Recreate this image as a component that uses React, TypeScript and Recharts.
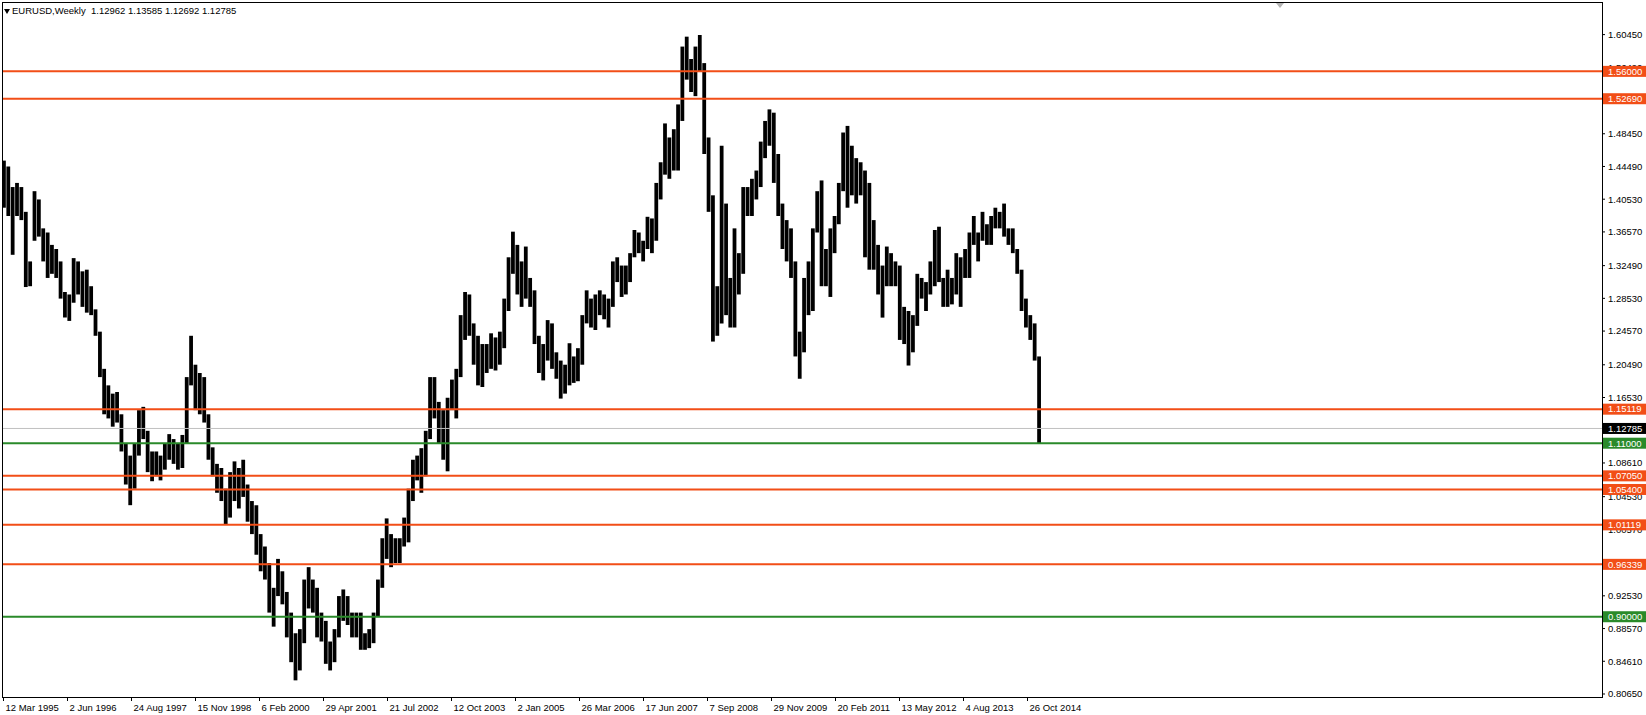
import React from 'react';
import { ComposedChart, Bar, XAxis, YAxis, ReferenceLine } from 'recharts';

// EURUSD weekly chart, drawn here as monthly high/low ranges (Mar 1995 - Jan 2015)
const FIRST_MONTH = '1995-03';
const CHART_START = '1995-03-12';

// monthly highs, one row per year
const highs = [
  1.452, 1.445, 1.420, 1.425, 1.420, 1.390, 1.330, 1.415, 1.405, 1.370, // 1995 (Mar-Dec)
  1.365, 1.350, 1.345, 1.330, 1.293, 1.290, 1.334, 1.330, 1.318, 1.320, 1.300, 1.272, // 1996
  1.245, 1.200, 1.180, 1.170, 1.172, 1.145, 1.110, 1.095, 1.110, 1.150, 1.154, 1.125, // 1997
  1.100, 1.100, 1.095, 1.110, 1.121, 1.115, 1.110, 1.120, 1.190, 1.240, 1.205, 1.195, // 1998
  1.190, 1.145, 1.105, 1.085, 1.080, 1.055, 1.075, 1.088, 1.080, 1.090, 1.060, 1.040, // 1999
  1.035, 1.000, 0.985, 0.965, 0.935, 0.970, 0.955, 0.930, 0.905, 0.880, 0.885, 0.945, // 2000
  0.960, 0.945, 0.935, 0.905, 0.895, 0.870, 0.885, 0.925, 0.933, 0.925, 0.905, 0.905, // 2001
  0.905, 0.880, 0.885, 0.905, 0.945, 0.995, 1.019, 1.000, 0.995, 0.995, 1.020, 1.055, // 2002
  1.090, 1.095, 1.104, 1.125, 1.190, 1.190, 1.160, 1.150, 1.165, 1.187, 1.200, 1.265, // 2003
  1.293, 1.290, 1.255, 1.240, 1.230, 1.230, 1.243, 1.238, 1.245, 1.285, 1.335, 1.366, // 2004
  1.350, 1.330, 1.348, 1.310, 1.295, 1.240, 1.230, 1.259, 1.255, 1.220, 1.210, 1.205, // 2005
  1.231, 1.215, 1.225, 1.265, 1.295, 1.285, 1.290, 1.295, 1.290, 1.285, 1.330, 1.335, // 2006
  1.325, 1.325, 1.340, 1.368, 1.365, 1.355, 1.384, 1.382, 1.425, 1.450, 1.497, 1.480, // 2007
  1.490, 1.520, 1.590, 1.602, 1.575, 1.590, 1.604, 1.570, 1.480, 1.410, 1.300, 1.470, // 2008
  1.400, 1.310, 1.370, 1.340, 1.420, 1.420, 1.430, 1.440, 1.475, 1.500, 1.514, 1.510, // 2009
  1.460, 1.400, 1.380, 1.370, 1.330, 1.245, 1.310, 1.330, 1.370, 1.415, 1.428, 1.345, // 2010
  1.370, 1.385, 1.425, 1.486, 1.494, 1.470, 1.455, 1.450, 1.440, 1.425, 1.380, 1.350, // 2011
  1.325, 1.348, 1.340, 1.330, 1.325, 1.275, 1.270, 1.265, 1.315, 1.310, 1.305, 1.330, // 2012
  1.368, 1.372, 1.310, 1.320, 1.310, 1.340, 1.335, 1.345, 1.365, 1.385, 1.365, 1.390, // 2013
  1.375, 1.385, 1.395, 1.390, 1.400, 1.370, 1.370, 1.345, 1.320, 1.285, 1.265, 1.255, // 2014
  1.215, // 2015 (Jan)
];

// monthly lows, same layout
const lows = [
  1.395, 1.385, 1.338, 1.385, 1.380, 1.299, 1.300, 1.355, 1.360, 1.330, // 1995
  1.310, 1.315, 1.310, 1.285, 1.262, 1.258, 1.280, 1.290, 1.275, 1.268, 1.265, 1.240, // 1996
  1.190, 1.145, 1.140, 1.130, 1.135, 1.100, 1.060, 1.035, 1.055, 1.095, 1.115, 1.075, // 1997
  1.064, 1.070, 1.065, 1.078, 1.090, 1.085, 1.078, 1.080, 1.110, 1.180, 1.150, 1.145, // 1998
  1.135, 1.090, 1.070, 1.050, 1.040, 1.011, 1.020, 1.040, 1.031, 1.045, 1.015, 1.000, // 1999
  0.975, 0.955, 0.945, 0.905, 0.888, 0.925, 0.915, 0.875, 0.845, 0.823, 0.835, 0.868, // 2000
  0.910, 0.905, 0.875, 0.870, 0.843, 0.835, 0.845, 0.875, 0.895, 0.890, 0.875, 0.875, // 2001
  0.860, 0.860, 0.862, 0.868, 0.900, 0.935, 0.970, 0.960, 0.965, 0.965, 0.985, 0.990, // 2002
  1.040, 1.065, 1.050, 1.070, 1.115, 1.140, 1.110, 1.090, 1.076, 1.150, 1.140, 1.190, // 2003
  1.235, 1.240, 1.205, 1.180, 1.178, 1.195, 1.200, 1.198, 1.205, 1.225, 1.270, 1.315, // 2004
  1.290, 1.275, 1.285, 1.275, 1.230, 1.195, 1.186, 1.210, 1.200, 1.188, 1.164, 1.170, // 2005
  1.180, 1.183, 1.185, 1.205, 1.255, 1.250, 1.247, 1.265, 1.260, 1.250, 1.275, 1.305, // 2006
  1.287, 1.290, 1.305, 1.335, 1.340, 1.330, 1.345, 1.340, 1.355, 1.405, 1.435, 1.430, // 2007
  1.440, 1.440, 1.500, 1.550, 1.535, 1.530, 1.560, 1.460, 1.390, 1.233, 1.240, 1.255, // 2008
  1.265, 1.250, 1.250, 1.290, 1.315, 1.385, 1.385, 1.405, 1.420, 1.455, 1.470, 1.425, // 2009
  1.385, 1.345, 1.330, 1.310, 1.215, 1.188, 1.220, 1.265, 1.270, 1.365, 1.300, 1.300, // 2010
  1.287, 1.340, 1.375, 1.415, 1.395, 1.410, 1.400, 1.410, 1.335, 1.320, 1.320, 1.290, // 2011
  1.262, 1.300, 1.300, 1.300, 1.235, 1.230, 1.204, 1.220, 1.252, 1.285, 1.270, 1.290, // 2012
  1.300, 1.305, 1.275, 1.275, 1.278, 1.290, 1.275, 1.310, 1.310, 1.350, 1.330, 1.355, // 2013
  1.350, 1.350, 1.370, 1.370, 1.360, 1.350, 1.340, 1.315, 1.270, 1.250, 1.235, 1.210, // 2014
  1.110, // 2015
];

const xTickDates = [
  '1995-03-12', '1996-06-02', '1997-08-24', '1998-11-15', '2000-02-06', '2001-04-29',
  '2002-07-21', '2003-10-12', '2005-01-02', '2006-03-26', '2007-06-17', '2008-09-07',
  '2009-11-29', '2011-02-20', '2012-05-13', '2013-08-04', '2014-10-26',
];
const xTickLabels = [
  '12 Mar 1995', '2 Jun 1996', '24 Aug 1997', '15 Nov 1998', '6 Feb 2000', '29 Apr 2001',
  '21 Jul 2002', '12 Oct 2003', '2 Jan 2005', '26 Mar 2006', '17 Jun 2007', '7 Sep 2008',
  '29 Nov 2009', '20 Feb 2011', '13 May 2012', '4 Aug 2013', '26 Oct 2014',
];

const priceTicks = [
  1.6045, 1.5649, 1.5253, 1.4845, 1.4449, 1.4053, 1.3657, 1.3249, 1.2853, 1.2457, 1.2049,
  1.1653, 1.1257, 1.0861, 1.0453, 1.0057, 0.9661, 0.9253, 0.8857, 0.8461, 0.8065,
];

const orangeLevels = [1.56, 1.5269, 1.15119, 1.0705, 1.054, 1.01119, 0.96339];
const greenLevels = [1.11, 0.9];
const lastPrice = 1.12785;
const header = { symbol: 'EURUSD,Weekly', ohlc: [1.12962, 1.13585, 1.12692, 1.12785] };

const ORANGE = '#f24e17';
const GREEN = '#2a8a2a';
const FONT = "'Liberation Sans', Arial, sans-serif";
const DAY = 86400000;
const W = 1646;
const H = 715;
const X_DOMAIN = [-0.5, 1598.5];
const Y_DOMAIN = [0.80286, 1.64274];

const [sy, sm, sd] = CHART_START.split('-').map(Number);
const origin = Date.UTC(sy, sm - 1, sd);

const weekIndex = (iso: string) => {
  const [y, m, d] = iso.split('-').map(Number);
  return (Date.UTC(y, m - 1, d) - origin) / (7 * DAY);
};

const [firstYear, firstMon] = FIRST_MONTH.split('-').map(Number);
const bars = highs.map((h, i) => {
  const mIdx = firstMon - 1 + i;
  const y = firstYear + Math.floor(mIdx / 12);
  const m = mIdx % 12;
  const mid = (Date.UTC(y, m, 1) + Date.UTC(y, m + 1, 1)) / 2;
  return { w: (mid - origin) / (7 * DAY), range: [lows[i], h] };
});

const xTicks = xTickDates.map((d) => Math.round(weekIndex(d)));
const xLabelOf: Record<number, string> = {};
xTicks.forEach((t, i) => (xLabelOf[t] = xTickLabels[i]));

const DateTick = ({ x, y, payload }: any) => (
  <text x={x + 2} y={y} dy={8} fill="#000" fontSize={9.5} fontFamily={FONT} textAnchor="start">
    {xLabelOf[payload.value]}
  </text>
);

const PriceTick = ({ x, y, payload }: any) => (
  <text x={x} y={y} dy="0.35em" fill="#000" fontSize={9.5} fontFamily={FONT} textAnchor="start">
    {Number(payload.value).toFixed(5)}
  </text>
);

const PriceTag = ({ viewBox, price, bg }: any) => {
  const left = viewBox.x + viewBox.width + 1;
  return (
    <g>
      <rect x={left} y={viewBox.y - 5.5} width={44} height={11} fill={bg} />
      <text x={left + 5} y={viewBox.y} dy="0.35em" fill="#fff" fontSize={9.5} fontFamily={FONT}>
        {price.toFixed(5)}
      </text>
    </g>
  );
};

const layer: React.CSSProperties = { position: 'absolute', left: 0, top: 0 };
const chartMargin = { top: 3, right: 0, bottom: 0, left: 3 };

export default function App() {
  return (
    <div style={{ position: 'absolute', left: 0, top: 0, width: W, height: H, background: '#fff' }}>
      {/* price bars and axes */}
      <div style={layer}>
        <ComposedChart width={W} height={H} data={bars} margin={chartMargin}>
          <XAxis
            type="number"
            dataKey="w"
            domain={X_DOMAIN}
            allowDataOverflow
            ticks={xTicks}
            interval={0}
            height={18}
            axisLine={false}
            tickLine={{ stroke: '#000' }}
            tickSize={4}
            tickMargin={2}
            tick={<DateTick />}
          />
          <YAxis
            orientation="right"
            type="number"
            domain={Y_DOMAIN}
            allowDataOverflow
            ticks={priceTicks}
            interval={0}
            width={44}
            axisLine={false}
            tickLine={{ stroke: '#000' }}
            tickSize={3}
            tickMargin={3}
            tick={<PriceTick />}
          />
          <Bar dataKey="range" fill="#000" barSize={5} isAnimationActive={false} />
        </ComposedChart>
      </div>

      {/* horizontal levels with price tags, drawn over the axis labels */}
      <div style={{ ...layer, pointerEvents: 'none' }}>
        <ComposedChart width={W} height={H} data={bars} margin={chartMargin}>
          <XAxis type="number" dataKey="w" domain={X_DOMAIN} allowDataOverflow height={18} axisLine={false} tickLine={false} tick={false} />
          <YAxis orientation="right" type="number" domain={Y_DOMAIN} allowDataOverflow width={44} axisLine={false} tickLine={false} tick={false} />
          <ReferenceLine
            y={lastPrice}
            stroke="#c0c0c0"
            strokeWidth={1}
            label={<PriceTag price={lastPrice} bg="#000" />}
          />
          {greenLevels.map((p) => (
            <ReferenceLine
              key={'g' + p}
              y={p}
              stroke={GREEN}
              strokeWidth={2}
              label={<PriceTag price={p} bg={GREEN} />}
            />
          ))}
          {orangeLevels.map((p) => (
            <ReferenceLine
              key={'o' + p}
              y={p}
              stroke={ORANGE}
              strokeWidth={2}
              label={<PriceTag price={p} bg={ORANGE} />}
            />
          ))}
        </ComposedChart>
      </div>

      {/* chart frame */}
      <div
        style={{
          position: 'absolute',
          left: 2,
          top: 2,
          width: 1601,
          height: 696,
          border: '1px solid #000',
          boxSizing: 'border-box',
          pointerEvents: 'none',
        }}
      />
      {/* shift marker */}
      <div
        style={{
          position: 'absolute',
          left: 1276,
          top: 3,
          width: 0,
          height: 0,
          borderLeft: '4px solid transparent',
          borderRight: '4px solid transparent',
          borderTop: '5px solid #b4b4b4',
        }}
      />
      <div
        style={{
          position: 'absolute',
          left: 4,
          top: 5,
          fontFamily: FONT,
          fontSize: 9.5,
          lineHeight: '12px',
          color: '#000',
          whiteSpace: 'pre',
          display: 'flex',
          alignItems: 'center',
        }}
      >
        <svg width={6} height={5} style={{ marginRight: 2 }}>
          <polygon points="0,0 6,0 3,5" fill="#000" />
        </svg>
        {header.symbol + '  ' + header.ohlc.map((v) => v.toFixed(5)).join(' ')}
      </div>
    </div>
  );
}
